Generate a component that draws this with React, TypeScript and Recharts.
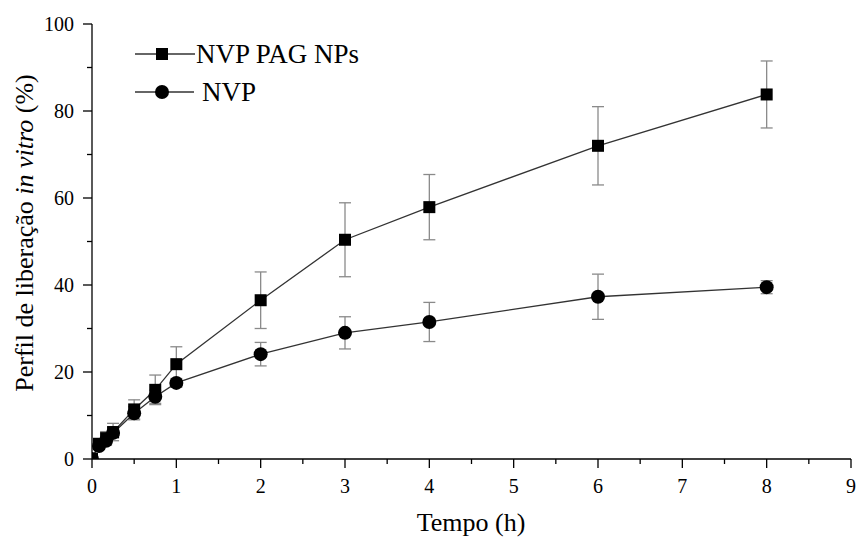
import React from 'react';
import { LineChart, Line, XAxis, YAxis, ErrorBar } from 'recharts';

const times = [0, 0.083, 0.167, 0.25, 0.5, 0.75, 1, 2, 3, 4, 6, 8];
const npsMean = [0, 3.5, 4.8, 6.2, 11.4, 15.9, 21.8, 36.5, 50.4, 57.9, 72, 83.8];
const npsErr = [0, 1, 1.5, 2, 2.2, 3.4, 4, 6.5, 8.5, 7.5, 9, 7.7];
const nvpMean = [0, 3, 4.2, 6, 10.5, 14.3, 17.5, 24.1, 29, 31.5, 37.3, 39.5];
const nvpErr = [0, 0.8, 1, 1.2, 1.5, 1.5, 1, 2.7, 3.7, 4.5, 5.2, 1.5];

const xTicks = [0, 0.5, 1, 1.5, 2, 2.5, 3, 3.5, 4, 4.5, 5, 5.5, 6, 6.5, 7, 7.5, 8, 8.5, 9];
const yTicks = [0, 10, 20, 30, 40, 50, 60, 70, 80, 90, 100];

const seriesNames = ['NVP PAG NPs', 'NVP'];

const data = times.map((t, i) => ({
  t,
  nps: npsMean[i],
  npsErr: npsErr[i],
  nvp: nvpMean[i],
  nvpErr: nvpErr[i],
}));

const FONT = '"Liberation Serif", "Times New Roman", serif';

const XTick = (props: any) => {
  const { x, y, payload } = props;
  const major = Number.isInteger(payload.value);
  return (
    <g>
      <line x1={x} x2={x} y1={y} y2={y + (major ? 9 : 5)} stroke="#000" strokeWidth={1.3} />
      {major && (
        <text x={x} y={y + 34} textAnchor="middle" fontFamily={FONT} fontSize={20} fill="#000">
          {payload.value}
        </text>
      )}
    </g>
  );
};

const YTick = (props: any) => {
  const { x, y, payload } = props;
  const major = payload.value % 20 === 0;
  return (
    <g>
      <line x1={x} x2={x - (major ? 9 : 5)} y1={y} y2={y} stroke="#000" strokeWidth={1.3} />
      {major && (
        <text x={x - 18} y={y + 7} textAnchor="end" fontFamily={FONT} fontSize={20} fill="#000">
          {payload.value}
        </text>
      )}
    </g>
  );
};

const SquareDot = (props: any) => {
  const { cx, cy, index } = props;
  if (cx == null || cy == null) return <g key={`sq-${index}`} />;
  return <rect key={`sq-${index}`} x={cx - 6} y={cy - 6} width={12} height={12} fill="#000" />;
};

const LegendOverlay = () => (
  <svg width={280} height={80} style={{ position: 'absolute', left: 130, top: 30 }}>
    <line x1={5} x2={65} y1={24} y2={24} stroke="#333" strokeWidth={1.3} />
    <rect x={26} y={18} width={12} height={12} fill="#000" />
    <text x={66} y={33} fontFamily={FONT} fontSize={27} fill="#000">{seriesNames[0]}</text>
    <line x1={5} x2={64} y1={62} y2={62} stroke="#333" strokeWidth={1.3} />
    <circle cx={32} cy={62} r={7} fill="#000" />
    <text x={72} y={71} fontFamily={FONT} fontSize={27} fill="#000">{seriesNames[1]}</text>
  </svg>
);

const YLabel = () => (
  <text
    x={24}
    y={233}
    transform="rotate(-90 24 233)"
    textAnchor="middle"
    dominantBaseline="central"
    fontFamily={FONT}
    fontSize={26}
    fill="#000"
  >
    Perfil de liberação <tspan fontStyle="italic">in vitro</tspan> (%)
  </text>
);

const XLabel = () => (
  <text x={471} y={531} textAnchor="middle" fontFamily={FONT} fontSize={26} fill="#000">
    Tempo (h)
  </text>
);

export default function App() {
  return (
    <div style={{ position: 'absolute', left: 0, top: 0, width: 857, height: 541, background: '#fff' }}>
      <LineChart width={857} height={541} data={data} margin={{ top: 24, right: 6, bottom: 0, left: 0 }}>
        <XAxis
          dataKey="t"
          type="number"
          domain={[0, 9]}
          ticks={xTicks}
          interval={0}
          allowDataOverflow
          height={82}
          tickSize={0}
          tickMargin={0}
          tickLine={false}
          tick={<XTick />}
          axisLine={{ stroke: '#000', strokeWidth: 1.3 }}
          label={<XLabel />}
        />
        <YAxis
          type="number"
          domain={[0, 100]}
          ticks={yTicks}
          interval={0}
          allowDataOverflow
          width={92}
          tickSize={0}
          tickMargin={0}
          tickLine={false}
          tick={<YTick />}
          axisLine={{ stroke: '#000', strokeWidth: 1.3 }}
          label={<YLabel />}
        />
        <Line
          dataKey="nps"
          name={seriesNames[0]}
          stroke="#333"
          strokeWidth={1.3}
          dot={<SquareDot />}
          isAnimationActive={false}
        >
          <ErrorBar dataKey="npsErr" direction="y" width={6} stroke="#8a8a8a" strokeWidth={1.3} />
        </Line>
        <Line
          dataKey="nvp"
          name={seriesNames[1]}
          stroke="#333"
          strokeWidth={1.3}
          dot={{ r: 7, fill: '#000', stroke: 'none' }}
          isAnimationActive={false}
        >
          <ErrorBar dataKey="nvpErr" direction="y" width={6} stroke="#8a8a8a" strokeWidth={1.3} />
        </Line>
      </LineChart>
      <LegendOverlay />
    </div>
  );
}
